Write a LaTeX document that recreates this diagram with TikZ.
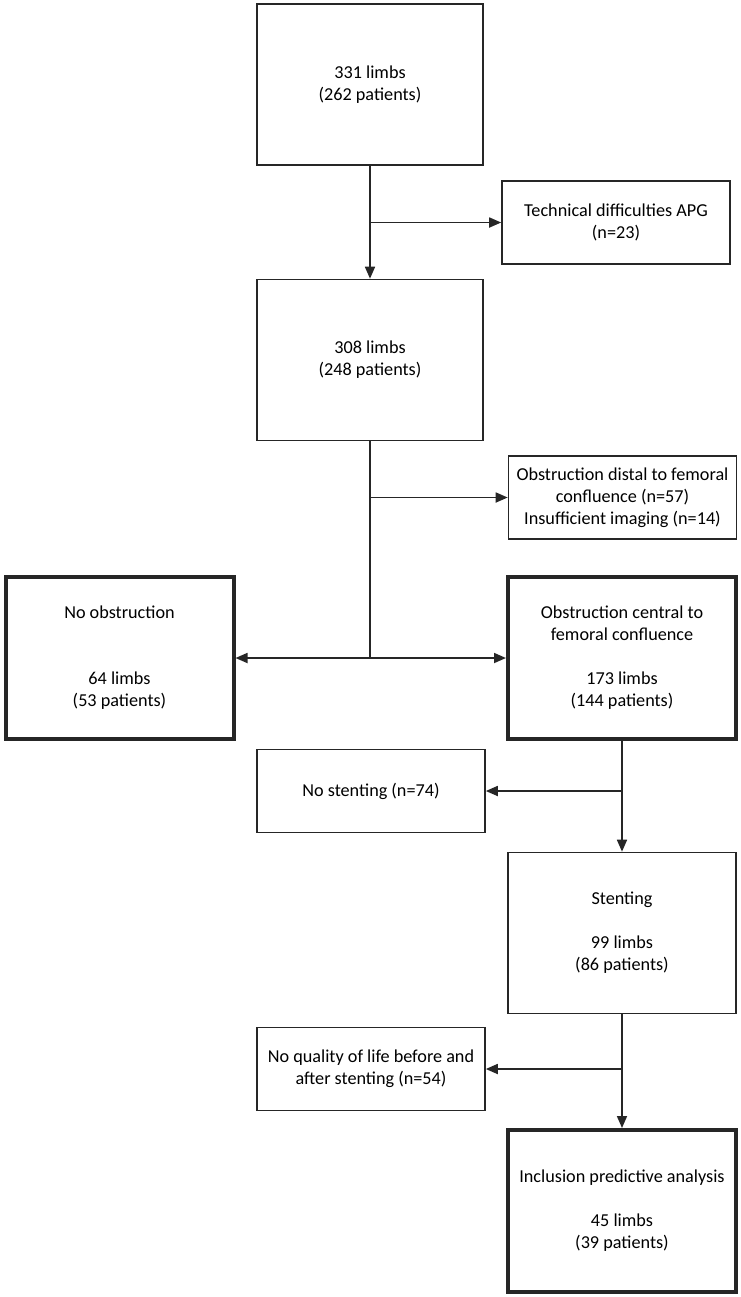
\documentclass[tikz,border=0pt]{standalone}
\usepackage{fontspec}
\setmainfont{Carlito}
\usetikzlibrary{arrows.meta}

\tikzstyle{stage} = [draw=black!85, line width=0.8pt, align=center, inner sep=1pt,
    minimum width=113pt, minimum height=80.5pt, font=\fontsize{9.1pt}{11pt}\selectfont]
\tikzstyle{excl} = [stage, minimum width=114pt, minimum height=41.5pt]
\tikzstyle{result} = [stage, line width=2pt, minimum width=114pt, minimum height=81pt]
\tikzstyle{line} = [draw=black!85, line width=0.85pt]
\tikzstyle{link} = [line, -{Triangle[length=6pt,width=5pt]}]

\begin{document}
\begin{tikzpicture}[x=0.5pt, y=-0.5pt]
\useasboundingbox (0,0) rectangle (740,1297);

% main column
\node[stage] (limbs331) at (370,84.5) {331 limbs\\(262 patients)};
\node[stage] (limbs308) at (370,360) {308 limbs\\(248 patients)};

% exclusions
\node[excl] (apg) at (616,222.5) {Technical difficulties APG\\(n=23)};
\node[excl] (distal) at (622.5,497.5)
    {Obstruction distal to femoral\\confluence (n=57)\\Insufficient imaging (n=14)};

% split
\node[result] (noobs) at (119.5,658) {No obstruction\\[22pt]64 limbs\\(53 patients)};
\node[result] (central) at (622,658)
    {Obstruction central to\\femoral confluence\\[11pt]173 limbs\\(144 patients)};

% stenting
\node[excl] (nostent) at (371,791) {No stenting (n=74)};
\node[stage, minimum width=114pt] (stent) at (622,933) {Stenting\\[11pt]99 limbs\\(86 patients)};
\node[excl] (noqol) at (371,1069) {No quality of life before and\\after stenting (n=54)};
\node[result] (incl) at (622,1211)
    {Inclusion predictive analysis\\[11pt]45 limbs\\(39 patients)};

\coordinate (split) at (limbs308.south |- noobs.east);

\draw[link] (limbs331) -- (limbs308);
\draw[link] (limbs331.south |- apg.west) -- (apg.west);
\draw[line] (limbs308) -- (split);
\draw[link] (limbs308.south |- distal.west) -- (distal.west);
\draw[link] (split) -- (noobs.east);
\draw[link] (split) -- (central.west);
\draw[link] (central) -- (stent);
\draw[link] (central.south |- nostent.east) -- (nostent.east);
\draw[link] (stent) -- (incl);
\draw[link] (stent.south |- noqol.east) -- (noqol.east);
\end{tikzpicture}
\end{document}
